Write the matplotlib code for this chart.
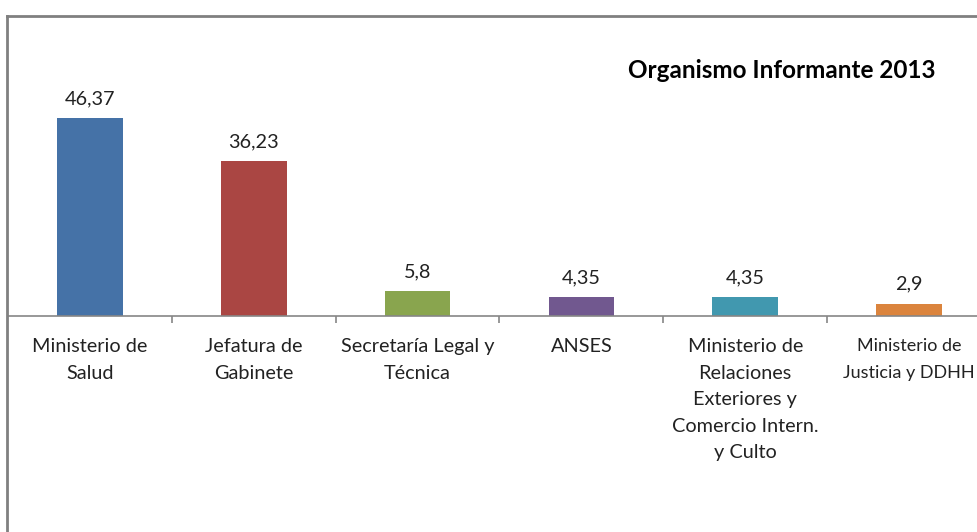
import matplotlib
matplotlib.use('Agg')
import matplotlib.pyplot as plt
from matplotlib.lines import Line2D

categorias = ["Ministerio de\nSalud", "Jefatura de\nGabinete", "Secretaría Legal y\nTécnica",
              "ANSES", "Ministerio de\nRelaciones\nExteriores y\nComercio Intern.\ny Culto",
              "Ministerio de\nJusticia y DDHH"]
valores = [46.37, 36.23, 5.8, 4.35, 4.35, 2.9]
etiquetas = ["46,37", "36,23", "5,8", "4,35", "4,35", "2,9"]
colores = ["#4572A7", "#AA4643", "#89A54E", "#71588F", "#4198AF", "#DB843D"]

plt.rcParams['font.family'] = ['Lato', 'DejaVu Sans']

W, H = 978, 532
fig = plt.figure(figsize=(W / 100, H / 100), dpi=100)

# plot area: baseline at y=316px, 4.27 px per unit
ax = fig.add_axes([8 / W, (H - 316) / H, 983 / W, 50 * 4.27 / H])
ax.bar(range(len(valores)), valores, width=0.4, color=colores)
ax.set_xlim(-0.5, len(valores) - 0.5)
ax.set_ylim(0, 50)

for i, (v, t) in enumerate(zip(valores, etiquetas)):
    ax.annotate(t, (i, v), xytext=(0, 11), textcoords='offset pixels',
                ha='center', va='bottom', fontsize=14.3, color='#222222',
                annotation_clip=False)

for s in ['top', 'right', 'left']:
    ax.spines[s].set_visible(False)
ax.spines['bottom'].set_color('#868686')
ax.spines['bottom'].set_linewidth(1.2)
ax.set_yticks([])
ax.set_xticks(range(len(valores)))
ax.set_xticklabels(categorias, fontsize=14.3, color='#222222', linespacing=1.68, va='top')
ax.tick_params(axis='x', which='major', length=0, pad=16)
# last label is wide in this font, shrink it so it stays inside the picture
ultima = ax.get_xticklabels()[-1]
ultima.set_fontsize(13)
ultima.set_linespacing(1.68 * 14.3 / 13)
ax.set_xticks([i + 0.5 for i in range(len(valores) - 1)], minor=True)
ax.tick_params(axis='x', which='minor', length=5, color='#868686', width=1.2)
ax.patch.set_alpha(0)

fig.text(628 / W, (H - 70) / H, "Organismo Informante 2013", fontsize=17.5,
         fontweight='bold', ha='left', va='center')

# chart frame (only left and top visible)
borde = '#808080'
fig.add_artist(Line2D([7.5 / W, 7.5 / W], [0, (H - 15.5) / H], color=borde, lw=2,
                      transform=fig.transFigure))
fig.add_artist(Line2D([7.5 / W, 1], [(H - 15.5) / H, (H - 15.5) / H], color=borde, lw=2,
                      transform=fig.transFigure))

fig.savefig('out.png', dpi=100)
